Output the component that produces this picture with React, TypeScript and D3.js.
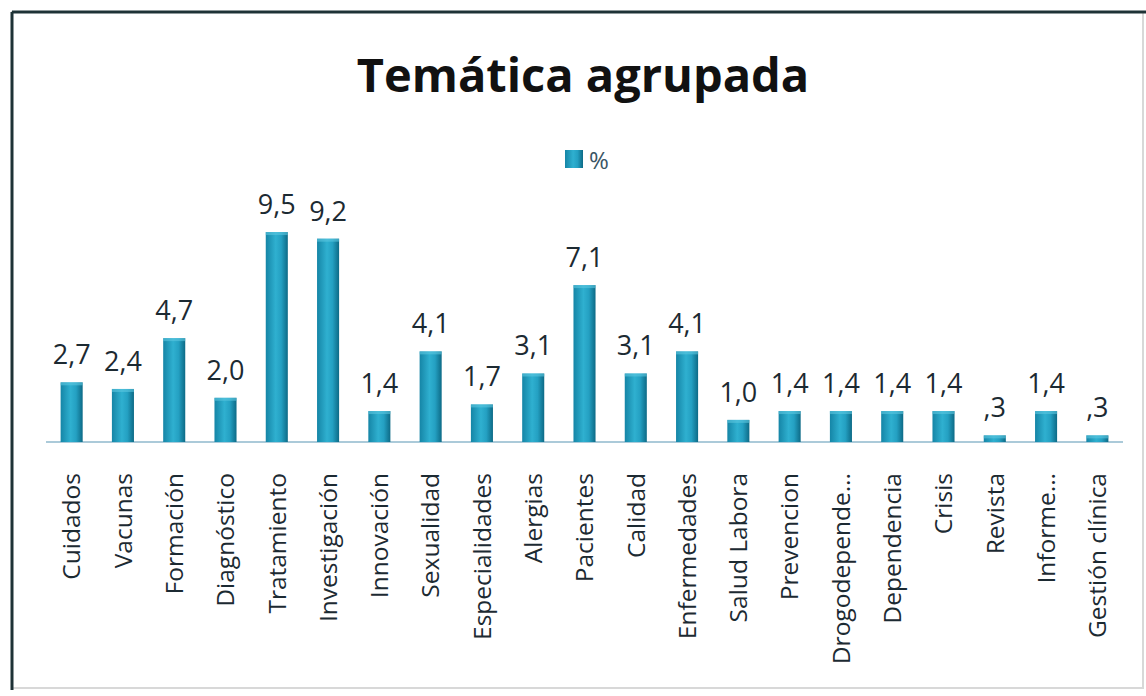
import React from "react";
import * as d3 from "d3";

const categories = [
  "Cuidados", "Vacunas", "Formación", "Diagnóstico", "Tratamiento", "Investigación",
  "Innovación", "Sexualidad", "Especialidades", "Alergias", "Pacientes", "Calidad",
  "Enfermedades", "Salud Labora", "Prevencion", "Drogodepende...", "Dependencia",
  "Crisis", "Revista", "Informe...", "Gestión clínica",
];
const values = [2.7, 2.4, 4.7, 2.0, 9.5, 9.2, 1.4, 4.1, 1.7, 3.1, 7.1, 3.1, 4.1, 1.0, 1.4, 1.4, 1.4, 1.4, 0.3, 1.4, 0.3];
const seriesName = "%";
const title = "Temática agrupada";

const W = 1146;
const H = 696;
const baseY = 442;
const font = "'Open Sans', 'DejaVu Sans', sans-serif";
const textColor = "#1c2a32";

function fmt(v: number): string {
  const s = v.toFixed(1).replace(".", ",");
  return v < 1 ? s.replace(/^0/, "") : s;
}

export default function App() {
  const x = d3.scaleBand<string>().domain(categories).range([46, 1123]).paddingInner(0.57).paddingOuter(0.285);
  const y = d3.scaleLinear().domain([0, 10]).range([baseY, baseY - 221]);
  const bw = x.bandwidth();
  return (
    <svg width={W} height={H} style={{ position: "absolute", left: 0, top: 0 }} xmlns="http://www.w3.org/2000/svg">
      <defs>
        <linearGradient id="barGrad" x1="0" x2="1" y1="0" y2="0">
          <stop offset="0" stopColor="#1585a6" />
          <stop offset="0.45" stopColor="#2fb0d0" />
          <stop offset="0.7" stopColor="#24a0c2" />
          <stop offset="1" stopColor="#0d6a86" />
        </linearGradient>
      </defs>
      <rect x={0} y={0} width={W} height={H} fill="#ffffff" />
      <rect x={12} y={12} width={1131} height={676} fill="none" stroke="#d8d8d8" strokeWidth={2} />
      <line x1={12} y1={12} x2={1146} y2={12} stroke="#1e3236" strokeWidth={3} />
      <line x1={12} y1={12} x2={12} y2={690} stroke="#1e3236" strokeWidth={3} />
      <text x={583} y={92} textAnchor="middle" fontFamily={font} fontWeight="bold" fontSize={47} fill="#111">
        {title}
      </text>
      <rect x={565} y={150} width={18} height={18} fill="url(#barGrad)" />
      <text x={589} y={169} fontFamily={font} fontSize={24} fill="#3a5564">{seriesName}</text>
      <line x1={46} x2={1123} y1={baseY} y2={baseY} stroke="#8fb9cc" strokeWidth={1.5} />
      {values.map((v, i) => {
        const cx = (x(categories[i]) as number) + bw / 2;
        return (
          <g key={i}>
            <rect x={x(categories[i])} y={y(v)} width={bw} height={baseY - y(v)} fill="url(#barGrad)" />
            <rect x={x(categories[i])} y={y(v)} width={bw} height={Math.min(3, baseY - y(v))} fill="#5cc6e0" opacity={0.6} />
            <text x={cx} y={y(v) - 18} textAnchor="middle" fontFamily={font} fontSize={27} fill={textColor}>
              {fmt(v)}
            </text>
            <text
              transform={`translate(${cx},473) rotate(-90)`}
              textAnchor="end"
              dy="0.36em"
              fontFamily={font}
              fontSize={24.5}
              fill={textColor}
            >
              {categories[i]}
            </text>
          </g>
        );
      })}
    </svg>
  );
}
